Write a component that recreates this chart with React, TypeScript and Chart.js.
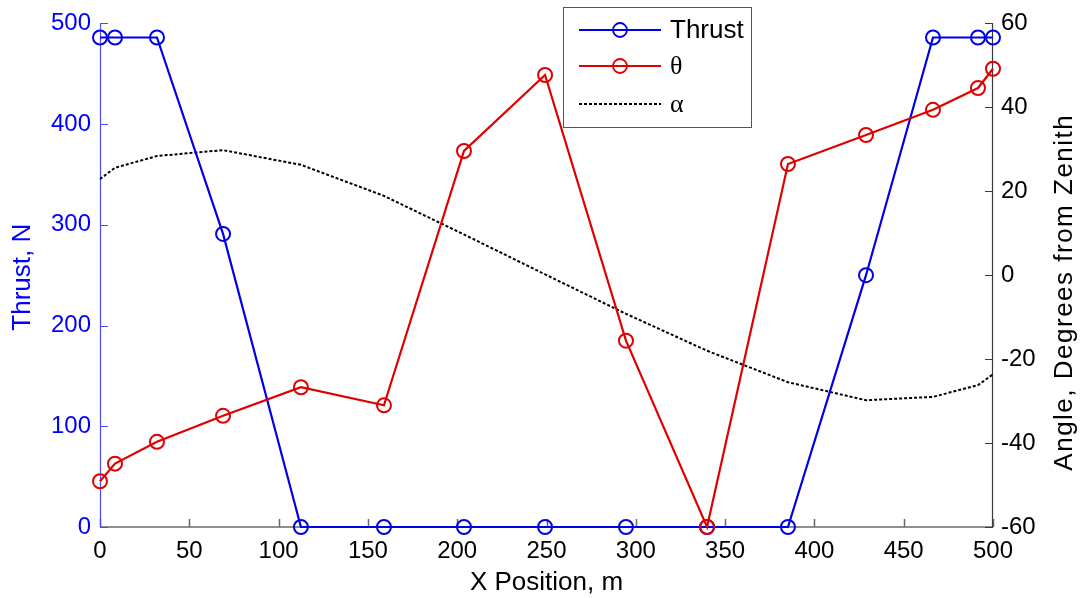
import React, { useEffect, useRef } from "react";
import { Chart, registerables } from "chart.js";

Chart.register(...registerables);

// Sample positions along the track (m)
const xPosition = [0, 8.4, 31.9, 68.9, 112.5, 159, 203.8, 249.2, 294.5, 339.9, 385.2, 428.9, 466.4, 491.6, 500];
// Thrust at each sample (N)
const thrust = [486, 486, 486, 291, 0, 0, 0, 0, 0, 0, 0, 250, 486, 486, 486];
// Thrust angle θ (degrees from zenith)
const theta = [-49.1, -44.9, -39.7, -33.5, -26.7, -31, 29.6, 47.7, -15.6, -60, 26.5, 33.4, 39.4, 44.6, 49.2];
// Path angle α (degrees from zenith)
const alpha = [22.9, 25.6, 28.4, 29.8, 26.3, 18.9, 9.7, 0.2, -9.2, -18, -25.5, -29.8, -29, -26.2, -23.6];

const xTicks = [0, 50, 100, 150, 200, 250, 300, 350, 400, 450, 500];
const thrustTicks = [0, 100, 200, 300, 400, 500];
const angleTicks = [-60, -40, -20, 0, 20, 40, 60];

const SANS = '"Liberation Sans", Arial, Helvetica, sans-serif';
const SERIF = '"Liberation Serif", "Times New Roman", serif';
const BLUE = "#0000e6";
const RED = "#e00000";

const toPoints = (ys: number[]) => xPosition.map((x, i) => ({ x, y: ys[i] }));

const axesPlugin = {
  id: "boxAxes",
  beforeDatasetsDraw(chart: any) {
    const { ctx, chartArea, scales } = chart;
    const { left, right, top, bottom } = chartArea;
    const tick = 8;
    ctx.save();
    // bottom axis
    ctx.strokeStyle = "#6a6a6a";
    ctx.lineWidth = 1.5;
    ctx.beginPath();
    ctx.moveTo(left, bottom);
    ctx.lineTo(right, bottom);
    for (const v of xTicks) {
      const px = Math.round(scales.x.getPixelForValue(v)) + 0.5;
      ctx.moveTo(px, bottom);
      ctx.lineTo(px, bottom - tick);
    }
    ctx.stroke();
    // left axis (thrust)
    ctx.strokeStyle = "#4d4dff";
    ctx.lineWidth = 1.2;
    ctx.beginPath();
    ctx.moveTo(left + 0.5, top);
    ctx.lineTo(left + 0.5, bottom);
    for (const v of thrustTicks) {
      const py = Math.round(scales.y.getPixelForValue(v)) + 0.5;
      ctx.moveTo(left, py);
      ctx.lineTo(left + tick, py);
    }
    ctx.stroke();
    // right axis (angle)
    ctx.strokeStyle = "#3a3a3a";
    ctx.beginPath();
    ctx.moveTo(right - 0.5, top);
    ctx.lineTo(right - 0.5, bottom);
    for (const v of angleTicks) {
      const py = Math.round(scales.y1.getPixelForValue(v)) + 0.5;
      ctx.moveTo(right, py);
      ctx.lineTo(right - tick, py);
    }
    ctx.stroke();
    ctx.restore();
  },
  afterDraw(chart: any) {
    const { ctx, chartArea } = chart;
    const { left, right, top, bottom } = chartArea;
    ctx.save();
    ctx.textAlign = "center";
    ctx.textBaseline = "middle";
    ctx.font = `26px ${SANS}`;

    // axis titles
    ctx.fillStyle = "#000";
    ctx.fillText("X Position, m", (left + right) / 2, 583);

    ctx.save();
    ctx.translate(23, (top + bottom) / 2 + 2);
    ctx.rotate(-Math.PI / 2);
    ctx.fillStyle = "#0000ff";
    ctx.fillText("Thrust, N", 0, 0);
    ctx.restore();

    ctx.save();
    ctx.translate(1065, (top + bottom) / 2 + 17);
    ctx.rotate(-Math.PI / 2);
    ctx.fillStyle = "#000";
    (ctx as any).letterSpacing = "1.5px";
    ctx.fillText("Angle, Degrees from Zenith", 0, 0);
    (ctx as any).letterSpacing = "0px";
    ctx.restore();

    // legend
    const bx = 563.5, by = 7.5, bw = 188, bh = 120;
    ctx.fillStyle = "#fff";
    ctx.fillRect(bx, by, bw, bh);
    ctx.strokeStyle = "#555";
    ctx.lineWidth = 1;
    ctx.strokeRect(bx, by, bw, bh);

    const rows = [
      { label: "Thrust", color: BLUE, y: 30, marker: true, dash: [] as number[], font: SANS },
      { label: "θ", color: RED, y: 66, marker: true, dash: [] as number[], font: SERIF },
      { label: "α", color: "#000", y: 104, marker: false, dash: [3, 2], font: SERIF },
    ];
    for (const r of rows) {
      ctx.strokeStyle = r.color;
      ctx.lineWidth = 2;
      ctx.setLineDash(r.dash);
      ctx.beginPath();
      ctx.moveTo(579, r.y);
      ctx.lineTo(661, r.y);
      ctx.stroke();
      ctx.setLineDash([]);
      if (r.marker) {
        ctx.lineWidth = 1.8;
        ctx.beginPath();
        ctx.arc(620, r.y, 7, 0, Math.PI * 2);
        ctx.stroke();
      }
      ctx.fillStyle = "#000";
      ctx.textAlign = "left";
      ctx.font = `26px ${r.font}`;
      ctx.fillText(r.label, 670, r.y + 1);
    }
    ctx.restore();
  },
};

export default function App() {
  const canvasRef = useRef<HTMLCanvasElement | null>(null);

  useEffect(() => {
    document.body.style.margin = "0";
    const canvas = canvasRef.current;
    if (!canvas) return;

    const tickFont = { family: SANS, size: 24 };

    const chart = new Chart(canvas, {
      type: "line",
      data: {
        datasets: [
          {
            label: "Thrust",
            data: toPoints(thrust),
            yAxisID: "y",
            borderColor: BLUE,
            borderWidth: 2.2,
            pointRadius: 7,
            pointBorderWidth: 2,
            pointBorderColor: BLUE,
            pointBackgroundColor: "rgba(0,0,0,0)",
            tension: 0,
            clip: false as any,
            order: 2,
          },
          {
            label: "θ",
            data: toPoints(theta),
            yAxisID: "y1",
            borderColor: RED,
            borderWidth: 2.2,
            pointRadius: 7,
            pointBorderWidth: 2,
            pointBorderColor: RED,
            pointBackgroundColor: "rgba(0,0,0,0)",
            tension: 0,
            clip: false as any,
            order: 1,
          },
          {
            label: "α",
            data: toPoints(alpha),
            yAxisID: "y1",
            borderColor: "#000",
            borderWidth: 2,
            borderDash: [3, 2],
            pointRadius: 0,
            tension: 0,
            clip: false as any,
            order: 3,
          },
        ],
      },
      options: {
        responsive: false,
        animation: false,
        events: [],
        layout: { padding: { top: 19, left: 0, right: 0, bottom: 0 } },
        plugins: { legend: { display: false }, tooltip: { enabled: false } },
        scales: {
          x: {
            type: "linear",
            position: "bottom",
            min: 0,
            max: 500,
            afterBuildTicks: (s: any) => {
              s.ticks = xTicks.map((value) => ({ value }));
            },
            afterFit: (s: any) => {
              s.height = 71;
            },
            grid: { display: false, drawTicks: false },
            border: { display: false },
            ticks: { padding: 10, font: tickFont, color: "#000", maxRotation: 0, autoSkip: false },
          },
          y: {
            type: "linear",
            position: "left",
            min: 0,
            max: 500,
            afterBuildTicks: (s: any) => {
              s.ticks = thrustTicks.map((value) => ({ value }));
            },
            afterFit: (s: any) => {
              s.width = 100;
            },
            grid: { display: false, drawTicks: false },
            border: { display: false },
            ticks: { padding: 9, font: tickFont, color: "#0000ff", autoSkip: false },
          },
          y1: {
            type: "linear",
            position: "right",
            min: -60,
            max: 60,
            afterBuildTicks: (s: any) => {
              s.ticks = angleTicks.map((value) => ({ value }));
            },
            afterFit: (s: any) => {
              s.width = 89;
            },
            grid: { display: false, drawTicks: false },
            border: { display: false },
            ticks: { padding: 8, font: tickFont, color: "#000", autoSkip: false },
          },
        },
      },
      plugins: [axesPlugin],
    });

    return () => chart.destroy();
  }, []);

  return (
    <div style={{ width: 1082, height: 598, background: "#fff" }}>
      <canvas ref={canvasRef} width={1082} height={598} style={{ display: "block" }} />
    </div>
  );
}
